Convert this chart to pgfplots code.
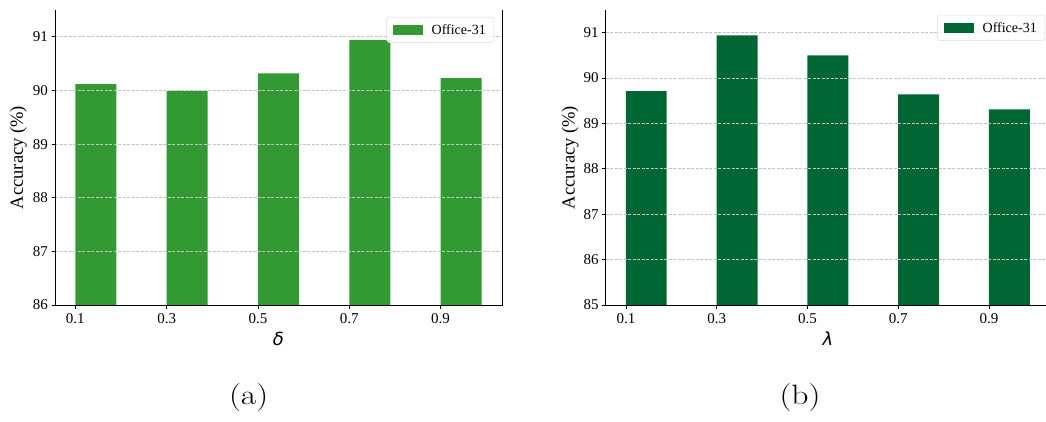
\documentclass[border=0pt]{standalone}
\usepackage{fontspec}
\newfontfamily\timesfont{Liberation Serif}
\newfontfamily\dejavu{DejaVu Sans}
\usepackage{pgfplots}
\pgfplotsset{compat=1.18}
\definecolor{gA}{HTML}{339933}
\definecolor{gB}{HTML}{006633}
\definecolor{gridc}{HTML}{C4C4C4}
\definecolor{legc}{HTML}{D8D8D8}

\pgfplotsset{
  myaxis/.style={
    scale only axis,
    height=295pt,
    anchor=south west,
    xmin=0.0555, xmax=1.0345, ymax=91.5,
    xtick={0.1,0.3,0.5,0.7,0.9},
    xticklabels={0.1,0.3,0.5,0.7,0.9},
    axis on top,
    axis line style={draw=none},
    tick pos=left,
    tick align=outside,
    major tick length=3.5pt,
    tick style={black, line width=0.8pt},
    ymajorgrids,
    major grid style={gridc, line width=0.8pt, dash pattern=on 3pt off 1.5pt},
    /pgf/number format/assume math mode=true,
    ticklabel style={font=\timesfont\fontsize{15}{18}\selectfont},
    xticklabel style={yshift=-1pt},
    ylabel={Accuracy (\%)},
    ylabel style={font=\timesfont\fontsize{18.5}{21}\selectfont, at={(axis description cs:-0.082,0.5)}, anchor=center},
    xlabel style={font=\dejavu\itshape\fontsize{18}{21}\selectfont, at={(axis description cs:0.5,-0.115)}, anchor=center},
    legend image code/.code={\fill[##1, fill opacity=1, sharp corners] (0pt,-5pt) rectangle (30pt,5pt); \path (37pt,0pt);},
    legend style={draw=legc, rounded corners=2.5pt, fill=white, fill opacity=0.8, text opacity=1,
      font=\timesfont\fontsize{14}{16}\selectfont, inner xsep=6pt, inner ysep=5pt},
    after end axis/.code={
      \draw[black, line width=0.8pt] (rel axis cs:0,1) -- (rel axis cs:0,0) -- (rel axis cs:1,0) -- (rel axis cs:1,1);
    },
  }
}

\begin{document}
\begin{tikzpicture}
\useasboundingbox (0pt,0pt) rectangle (1046pt,-422pt);

\begin{axis}[myaxis,
  at={(55pt,-305pt)}, width=447pt,
  ymin=86, ytick={86,87,88,89,90,91},
  xlabel={δ},
  legend style={at={(1,1)}, anchor=north east, xshift=-8pt, yshift=-7pt},
]
\addplot[ybar, bar width=0.09, bar shift=0.045, fill=gA, draw=none]
  coordinates {(0.1,90.12) (0.3,89.99) (0.5,90.32) (0.7,90.94) (0.9,90.23)};
\addlegendentry{Office-31}
\end{axis}

\begin{axis}[myaxis,
  at={(605.7pt,-305pt)}, width=444.3pt,
  ymin=85, ytick={85,86,87,88,89,90,91},
  xlabel={λ},
  ylabel style={at={(axis description cs:-0.080,0.5)}},
  legend style={at={(1,1)}, anchor=north east, xshift=-5pt, yshift=-5pt},
]
\addplot[ybar, bar width=0.09, bar shift=0.045, fill=gB, draw=none]
  coordinates {(0.1,89.71) (0.3,90.94) (0.5,90.50) (0.7,89.64) (0.9,89.31)};
\addlegendentry{Office-31}
\end{axis}

\node[xscale=1.2] at (248.7pt,-398pt) {\fontsize{28}{30}\selectfont (a)};
\node[xscale=1.2] at (800pt,-398pt) {\fontsize{28}{30}\selectfont (b)};
\end{tikzpicture}
\end{document}
